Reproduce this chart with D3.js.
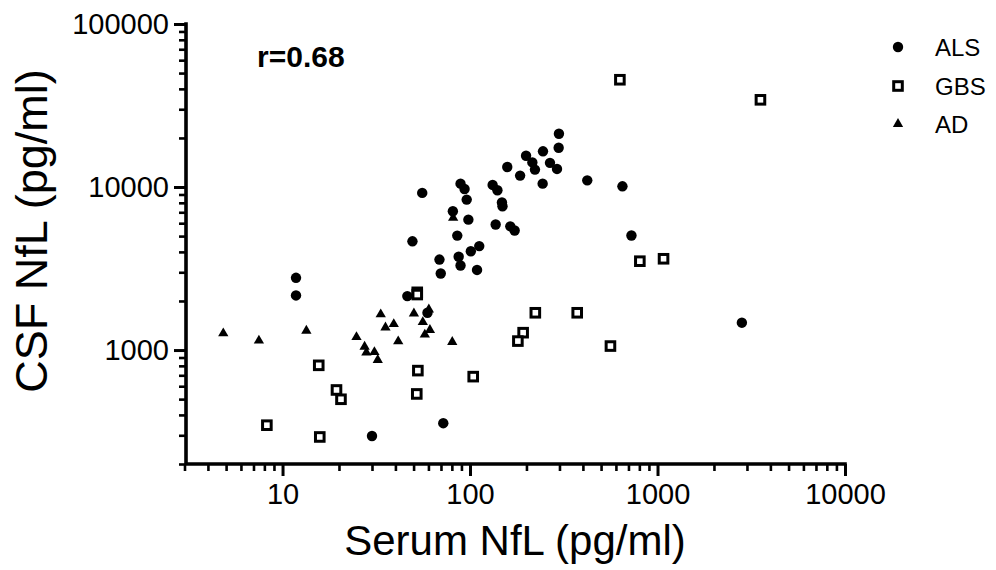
<!DOCTYPE html>
<html lang="en">
    <head>
        <title>NfL serum vs CSF</title>
        <meta charset="UTF-8">
        <script src="https://cdn.jsdelivr.net/npm/d3@7"></script>
    </head>
    <body style="margin:0;background:#fff">
        <style>
            text { font-family: "Liberation Sans", Arial, sans-serif; fill: #000; }
            .axis path, .axis line { stroke: #000; }
        </style>
        <div id="root"></div>
<script>

var width = 996
var height = 570

// serum (x) and CSF (y) values per group
var alsSerum = [11.8, 11.8, 55.6, 49.3, 68.7, 69.8, 46.3, 59.3, 298, 297, 245, 199, 215, 222, 267, 291,
                158, 185, 244, 422, 650, 726, 2818, 89, 93.5, 96, 132, 140, 148, 149, 81, 98, 85.5,
                137, 164, 173, 112, 101, 87, 89, 109, 30, 72]
var alsCsf = [2774, 2163, 9203, 4645, 3590, 2950, 2142, 1693, 21230, 17420, 16560, 15560, 14160, 12790, 14070, 12910,
              13270, 11750, 10490, 10990, 10100, 5040, 1472, 10490, 9730, 8375, 10300, 9550, 8050, 7620, 7100, 6310, 5035,
              5890, 5740, 5410, 4340, 4035, 3733, 3300, 3100, 297, 356]

var gbsSerum = [630, 3540, 805, 1077, 561, 223, 373, 192, 180, 104, 15.6, 52.7, 19.4, 20.5, 52, 8.25, 15.8, 52.3, 52.3]
var gbsCsf = [45500, 34270, 3508, 3630, 1058, 1693, 1693, 1278, 1135, 687, 806, 748, 569, 499, 538, 346, 293, 2260, 2190]

var adSerum = [4.83, 7.48, 13.4, 33.4, 35.4, 39.2, 50.2, 60.3, 56, 61.1, 57.4, 41.4, 80.4, 24.8, 27.4, 28, 30.9, 32.2, 81.3]
var adCsf = [1266, 1142, 1315, 1655, 1377, 1443, 1678, 1775, 1484, 1326, 1243, 1131, 1120, 1201, 1049, 964, 971, 869, 6470]

var groups = ['ALS', 'GBS', 'AD']
var xTicks = [10, 100, 1000, 10000]
var yTicks = [1000, 10000, 100000]
var xTitle = 'Serum NfL (pg/ml)'
var yTitle = 'CSF NfL (pg/ml)'
var rLabel = 'r=0.68'

function pairs(xs, ys) {
    return xs.map(function(v, i) { return {x: v, y: ys[i]} })
}

// minor ticks 2..9 of every decade inside the domain
function minors(lo, hi) {
    var out = []
    for (var p = 1; p <= hi; p *= 10) {
        for (var k = 2; k <= 9; k++) {
            var v = k * p
            if (v >= lo && v <= hi) out.push(v)
        }
    }
    return out
}

var svg = d3.select('#root')
            .append('svg')
            .attr('width', width)
            .attr('height', height)

var x = d3.scaleLog().domain([3, 10000]).range([184.5, 845])
var y = d3.scaleLog().domain([200, 100000]).range([464, 24])

var x0 = 186
var y0 = 464

// x axis: minor ticks, then major ticks with labels
svg.append('g')
    .attr('class', 'axis')
    .attr('transform', 'translate(0,' + y0 + ')')
    .call(d3.axisBottom(x).tickValues(minors(3, 10000)).tickSize(7).tickSizeOuter(0).tickFormat(''))
    .call(function(g) { g.select('.domain').remove() })
    .selectAll('line').attr('stroke-width', 2.6)

var xa = svg.append('g')
    .attr('class', 'axis')
    .attr('transform', 'translate(0,' + y0 + ')')
    .call(d3.axisBottom(x).tickValues(xTicks).tickSize(12).tickSizeOuter(0).tickPadding(7).tickFormat(d3.format('d')))
xa.select('.domain').remove()
xa.selectAll('line').attr('stroke-width', 3)
xa.selectAll('text').attr('font-size', 29).attr('dy', '0.72em')

svg.append('g')
    .attr('class', 'axis')
    .attr('transform', 'translate(' + x0 + ',0)')
    .call(d3.axisLeft(y).tickValues(minors(200, 100000)).tickSize(7).tickSizeOuter(0).tickFormat(''))
    .call(function(g) { g.select('.domain').remove() })
    .selectAll('line').attr('stroke-width', 2.6)

var ya = svg.append('g')
    .attr('class', 'axis')
    .attr('transform', 'translate(' + x0 + ',0)')
    .call(d3.axisLeft(y).tickValues(yTicks).tickSize(12).tickSizeOuter(0).tickPadding(5).tickFormat(d3.format('d')))
ya.select('.domain').remove()
ya.selectAll('line').attr('stroke-width', 3)
ya.selectAll('text').attr('font-size', 29)

// axis lines
svg.append('path')
    .attr('d', 'M' + x0 + ',' + y(100000) + 'V' + y0 + 'H' + x(10000))
    .attr('fill', 'none')
    .attr('stroke', '#000')
    .attr('stroke-width', 3.6)
    .attr('stroke-linecap', 'square')

// points
var tri = d3.symbol().type(d3.symbolTriangle).size(46)

svg.append('g').selectAll('circle')
    .data(pairs(alsSerum, alsCsf))
    .enter().append('circle')
        .attr('cx', function(d) { return x(d.x) })
        .attr('cy', function(d) { return y(d.y) })
        .attr('r', 5.2)
        .attr('fill', '#000')

svg.append('g').selectAll('rect')
    .data(pairs(gbsSerum, gbsCsf))
    .enter().append('rect')
        .attr('x', function(d) { return x(d.x) - 4.3 })
        .attr('y', function(d) { return y(d.y) - 4.3 })
        .attr('width', 8.6)
        .attr('height', 8.6)
        .attr('fill', '#fff')
        .attr('stroke', '#000')
        .attr('stroke-width', 3)

svg.append('g').selectAll('path')
    .data(pairs(adSerum, adCsf))
    .enter().append('path')
        .attr('d', tri)
        .attr('transform', function(d) { return 'translate(' + x(d.x) + ',' + y(d.y) + ')' })
        .attr('fill', '#000')

// titles
svg.append('text')
    .attr('x', 515)
    .attr('y', 555)
    .attr('text-anchor', 'middle')
    .attr('font-size', 42)
    .text(xTitle)

svg.append('text')
    .attr('transform', 'translate(47,231) rotate(-90)')
    .attr('text-anchor', 'middle')
    .attr('font-size', 45)
    .text(yTitle)

svg.append('text')
    .attr('x', 257)
    .attr('y', 67)
    .attr('font-size', 30)
    .attr('font-weight', 'bold')
    .text(rLabel)

// legend
var legend = svg.append('g')
var rowY = [47, 86, 124]
legend.append('circle').attr('cx', 898).attr('cy', rowY[0]).attr('r', 5.2).attr('fill', '#000')
legend.append('rect').attr('x', 893.7).attr('y', rowY[1] - 4.3).attr('width', 8.6).attr('height', 8.6)
    .attr('fill', '#fff').attr('stroke', '#000').attr('stroke-width', 3)
legend.append('path').attr('d', tri).attr('transform', 'translate(898,' + rowY[2] + ')').attr('fill', '#000')
legend.selectAll('text')
    .data(groups)
    .enter().append('text')
        .attr('x', 935)
        .attr('y', function(d, i) { return rowY[i] + 9 })
        .attr('font-size', 24)
        .text(function(d) { return d })

</script>
    </body>
</html>
